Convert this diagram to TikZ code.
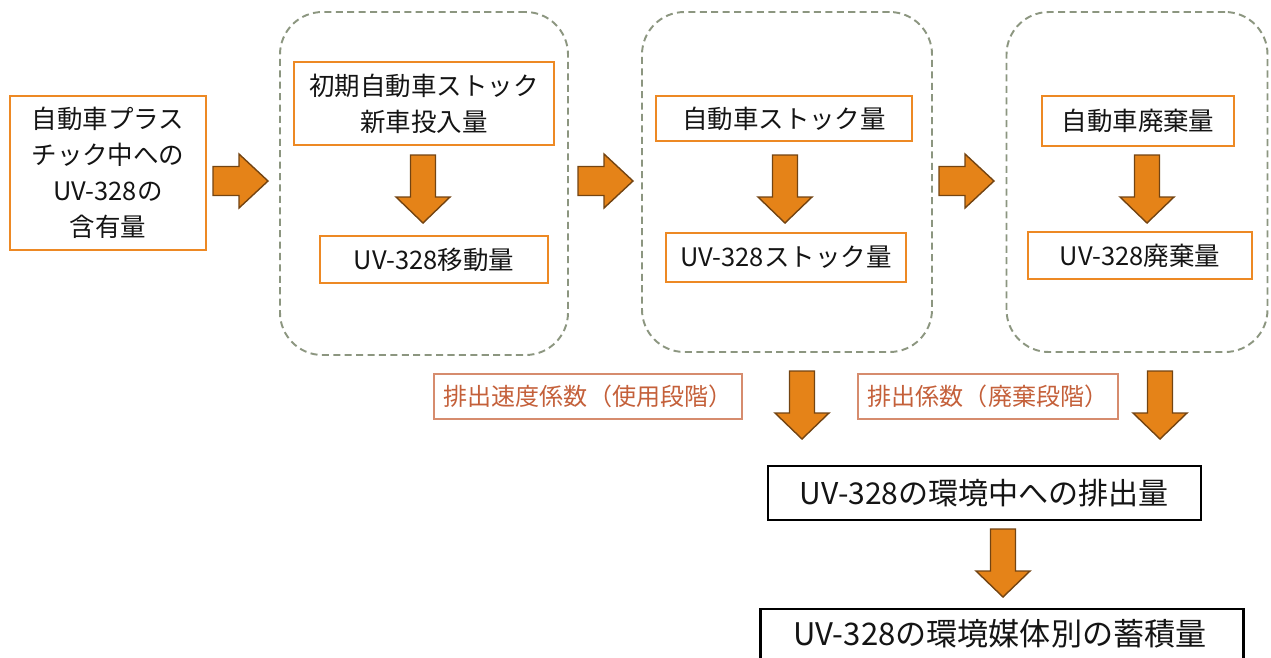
\documentclass[tikz,border=0pt]{standalone}
\usepackage{fontspec}
\setmainfont{Noto Sans CJK JP}
\usetikzlibrary{calc}
\definecolor{boxorange}{RGB}{237,137,36}
\definecolor{arrfill}{RGB}{229,131,24}
\definecolor{arrdraw}{RGB}{115,68,18}
\definecolor{dashgray}{RGB}{140,150,128}
\definecolor{labtext}{RGB}{196,96,58}
\definecolor{labdraw}{RGB}{214,140,110}
\definecolor{txt}{RGB}{20,20,20}
\def\upx{0.02cm}
\tikzset{
  obox/.style={draw=boxorange, line width=1.4pt, fill=white, inner sep=0pt, align=center,
    text=txt, font=\fontsize{14.5}{20.5}\selectfont},
  container/.style={draw=dashgray, line width=1.1pt, dash pattern=on 4pt off 2.5pt,
    rounded corners=0.85cm, inner sep=0pt},
  labbox/.style={draw=labdraw, line width=0.9pt, inner sep=0pt, text=labtext,
    font=\fontsize{13.7}{16}\selectfont},
  kbox/.style={draw=black, line width=1.2pt, fill=white, inner sep=0pt, text=txt},
  arrstyle/.style={fill=arrfill, draw=arrdraw, line width=0.8pt, line join=miter},
  pics/darr/.style={code={\draw[arrstyle] (-12.5,0) -- (12.5,0) -- (12.5,42) -- (27,42) -- (0,68) -- (-27,42) -- (-12.5,42) -- cycle;}},
  pics/rarr/.style={code={\draw[arrstyle] (0,-14.5) -- (26,-14.5) -- (26,-27) -- (55,0) -- (26,27) -- (26,14.5) -- (0,14.5) -- cycle;}},
}
\begin{document}
\begin{tikzpicture}[x=0.02cm,y=-0.02cm]
\useasboundingbox (0,0) rectangle (1271,657);

% containers
\node[container, minimum width=288*\upx, minimum height=343*\upx] (c1) at (424,183.5) {};
\node[container, minimum width=290*\upx, minimum height=340*\upx] (c2) at (787,182) {};
\node[container, minimum width=261*\upx, minimum height=340*\upx] (c3) at (1137,182) {};

% source box
\node[obox, minimum width=196*\upx, minimum height=154*\upx] (src) at (108,173)
  {自動車プラス\\チック中への\\UV-328の\\含有量};

% stage 1
\node[obox, minimum width=260*\upx, minimum height=83*\upx] (b1) at (424,103.5)
  {初期自動車ストック\\新車投入量};
\node[obox, minimum width=228*\upx, minimum height=47*\upx] (b2) at (434,259.5) {UV-328移動量};

% stage 2
\node[obox, minimum width=256*\upx, minimum height=45*\upx] (b3) at (784,118.5) {自動車ストック量};
\node[obox, minimum width=240*\upx, minimum height=49*\upx] (b4) at (786,257.5) {UV-328ストック量};

% stage 3
\node[obox, minimum width=192*\upx, minimum height=50*\upx] (b5) at (1138,121) {自動車廃棄量};
\node[obox, minimum width=224*\upx, minimum height=47*\upx] (b6) at (1140,255.5) {UV-328廃棄量};

% labels
\node[labbox, minimum width=308*\upx, minimum height=45*\upx] (l1) at (588,396.5) {排出速度係数（使用段階）};
\node[labbox, minimum width=260*\upx, minimum height=45*\upx] (l2) at (988,396.5) {排出係数（廃棄段階）};

% emission boxes
\node[kbox, minimum width=433*\upx, minimum height=54*\upx, font=\fontsize{17.1}{20}\selectfont] (e1) at (984.5,493) {UV-328の環境中への排出量};
\node[kbox, minimum width=483*\upx, minimum height=60*\upx, anchor=north] (e2) at (1002,608) {};
\node[text=txt, font=\fontsize{17.7}{20}\selectfont] (e2t) at (1000,634) {UV-328の環境媒体別の蓄積量};

% block arrows
\pic at (213,181) {rarr};
\pic at (578,181) {rarr};
\pic at (939,181) {rarr};
\pic at (423,155) {darr};
\pic at (785,155) {darr};
\pic at (1147,155) {darr};
\pic at (802,371) {darr};
\pic at (1160,371) {darr};
\pic at (1003,529) {darr};
\end{tikzpicture}
\end{document}
